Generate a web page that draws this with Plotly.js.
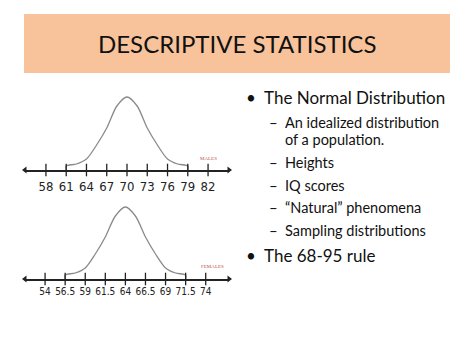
<!DOCTYPE html>
<html>
<head>
<meta charset="utf-8">
<script src="https://cdn.plot.ly/plotly-3.0.1.min.js"></script>
<style>html,body{margin:0;padding:0;background:#fff}#chart{width:474px;height:355px}</style>
</head>
<body>
<div id="chart"></div>
<script>
// Slide title
const slideTitle = "DESCRIPTIVE STATISTICS";

// Males chart
const maleTicks = [58, 61, 64, 67, 70, 73, 76, 79, 82];
const maleCurveX = [61, 61, 62.5, 64, 65.5, 67, 68.5, 70, 71.5, 73, 74.5, 76, 77.5, 79, 79];
const maleCurveY = [0, 4, 6, 11, 25, 42, 64, 73, 64, 42, 25, 11, 6, 4, 0];
const maleRange = [54.9, 85.1];
const maleLabel = "MALES";

// Females chart
const femaleTicks = [54, 56.5, 59, 61.5, 64, 66.5, 69, 71.5, 74];
const femaleCurveX = [56.5, 56.5, 57.75, 59, 60.25, 61.5, 62.75, 64, 65.25, 66.5, 67.75, 69, 70.25, 71.5, 71.5];
const femaleCurveY = [0, 4, 6, 11, 25, 42, 63, 72, 63, 42, 25, 11, 6, 4, 0];
const femaleRange = [51.5, 76.9];
const femaleLabel = "FEMALES";

// Bullet text
const bullets = ["The Normal Distribution", "The 68-95 rule"];
const bulletY = [97, 255];
const subItems = ["An idealized distribution", "of a population.", "Heights", "IQ scores", "\u201cNatural\u201d phenomena", "Sampling distributions"];
const subY = [122, 140, 162, 185, 207, 230];
const subDash = [true, false, true, true, true, true];

const W = 474, H = 355;
const py = v => 1 - v / H;
const px = v => v / W;
const font = "Lato, 'Open Sans', sans-serif";
const tickFont = "'Liberation Sans Narrow', 'DejaVu Sans Condensed', 'Liberation Sans', sans-serif";

const traces = [];
function addChart(xs, ys, ticks, range, xa, ya) {
  traces.push({x: xs, y: ys, xaxis: xa, yaxis: ya, mode: 'lines', type: 'scatter',
    line: {color: '#8a8a8a', width: 1.3, shape: 'spline', smoothing: 0.8}, hoverinfo: 'skip', cliponaxis: false});
  traces.push({x: ticks, y: ticks.map(() => 0), xaxis: xa, yaxis: ya, mode: 'markers', type: 'scatter',
    marker: {symbol: 'line-ns-open', size: 9, color: '#222', line: {color: '#222', width: 1.3}}, cliponaxis: false, hoverinfo: 'skip'});
  traces.push({x: [range[0], range[1]], y: [0, 0], xaxis: xa, yaxis: ya, mode: 'markers', type: 'scatter',
    marker: {symbol: ['triangle-left', 'triangle-right'], size: 6, color: '#222'}, cliponaxis: false, hoverinfo: 'skip'});
}
addChart(maleCurveX, maleCurveY, maleTicks, maleRange, 'x', 'y');
addChart(femaleCurveX, femaleCurveY, femaleTicks, femaleRange, 'x2', 'y2');

const annotations = [];
annotations.push({xref: 'paper', yref: 'paper', x: 0.5, y: py(43), text: slideTitle, showarrow: false,
  xanchor: 'center', yanchor: 'middle', font: {family: font, size: 24, color: '#111'}});
annotations.push({xref: 'x', yref: 'y', x: 82, y: 12, text: maleLabel, showarrow: false,
  font: {family: 'Liberation Serif, serif', size: 5, color: '#c0504d'}});
annotations.push({xref: 'x2', yref: 'y2', x: 74.8, y: 13, text: femaleLabel, showarrow: false,
  font: {family: 'Liberation Serif, serif', size: 5, color: '#c0504d'}});
bullets.forEach((b, i) => {
  annotations.push({xref: 'paper', yref: 'paper', x: px(244), y: py(bulletY[i]), text: '\u2022', showarrow: false,
    xanchor: 'left', yanchor: 'middle', font: {family: font, size: 17, color: '#111'}});
  annotations.push({xref: 'paper', yref: 'paper', x: px(262), y: py(bulletY[i]), text: b, showarrow: false,
    xanchor: 'left', yanchor: 'middle', font: {family: font, size: 17, color: '#111'}});
});
subItems.forEach((s, i) => {
  if (subDash[i]) annotations.push({xref: 'paper', yref: 'paper', x: px(267), y: py(subY[i]), text: '\u2013', showarrow: false,
    xanchor: 'left', yanchor: 'middle', font: {family: font, size: 15, color: '#111'}});
  annotations.push({xref: 'paper', yref: 'paper', x: px(283), y: py(subY[i]), text: s, showarrow: false,
    xanchor: 'left', yanchor: 'middle', font: {family: font, size: 14.5, color: '#111'}});
});

function xaxis(ticks, range, domain, anchor, size, standoff) {
  return {domain: domain, range: range, anchor: anchor, showgrid: false, zeroline: false,
    showline: true, linecolor: '#222', linewidth: 1.5, ticks: '', tickvals: ticks, ticktext: ticks.map(String),
    ticklabelstandoff: standoff, tickfont: {family: tickFont, size: size, color: '#222'}, fixedrange: true};
}
function yaxis(domain) {
  return {domain: domain, range: [0, 80], visible: false, showgrid: false, zeroline: false, fixedrange: true};
}

const layout = {
  width: W, height: H, margin: {l: 0, r: 0, t: 0, b: 0},
  paper_bgcolor: '#fff', plot_bgcolor: 'rgba(0,0,0,0)', showlegend: false,
  xaxis: xaxis(maleTicks, maleRange, [px(25), px(229)], 'y', 13, 4),
  yaxis: yaxis([py(170), py(90)]),
  xaxis2: xaxis(femaleTicks, femaleRange, [px(25), px(229)], 'y2', 10, 2),
  yaxis2: yaxis([py(279), py(199)]),
  shapes: [{type: 'rect', xref: 'paper', yref: 'paper', x0: px(24), x1: px(450), y0: py(73), y1: py(14),
    fillcolor: '#f8c39b', line: {width: 0}, layer: 'below'}],
  annotations: annotations
};
Plotly.newPlot('chart', traces, layout, {displayModeBar: false, staticPlot: true});
</script>
</body>
</html>
